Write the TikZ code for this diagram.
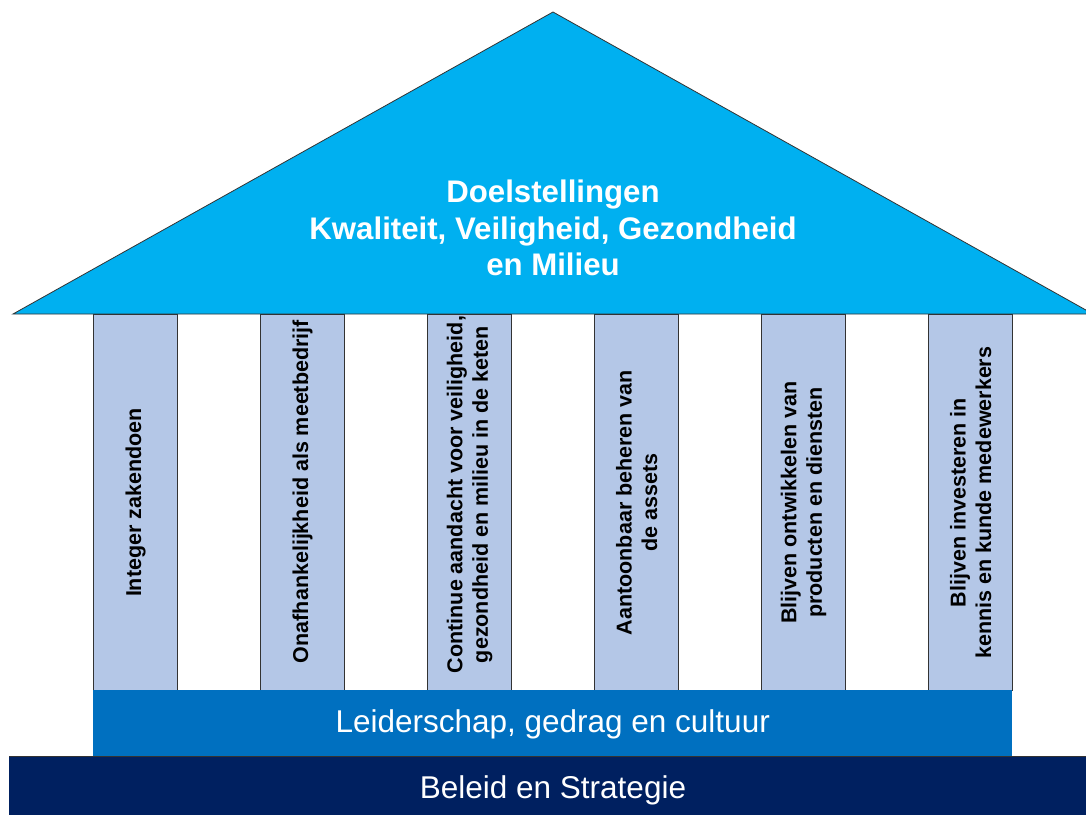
\documentclass[tikz,border=0pt]{standalone}
\usepackage{fontspec}
\setmainfont{Liberation Sans}
\definecolor{roofc}{HTML}{00B0F0}
\definecolor{pillarc}{HTML}{B4C7E7}
\definecolor{bandc}{HTML}{0070C0}
\definecolor{basec}{HTML}{002060}
\definecolor{edgec}{HTML}{333333}
\tikzset{
  pillar/.style={rectangle, draw=edgec, line width=1.2pt, fill=pillarc, minimum width=84pt, minimum height=376pt, inner sep=0pt, anchor=north west},
  plabel/.style={rotate=90, align=center, font=\fontsize{21.5}{25.5}\selectfont\bfseries, text=black, inner sep=0pt},
  band/.style={rectangle, inner sep=0pt, anchor=north west, text=white, font=\fontsize{31.5}{36}\selectfont}
}
\begin{document}
\begin{tikzpicture}[x=1pt,y=-1pt]
\useasboundingbox (0,0) rectangle (1086,814);
\clip (0,0) rectangle (1086,814);
\fill[white] (0,0) rectangle (1086,814);
% roof
\filldraw[fill=roofc, draw=edgec, line width=0.8pt] (13,314) -- (553,12) -- (1093,314) -- cycle;
\node[align=center, text=white, font=\fontsize{31.2}{36.5}\selectfont\bfseries] (roof) at (553,228)
  {Doelstellingen\\Kwaliteit, Veiligheid, Gezondheid\\en Milieu};
% pillars
\node[pillar] (p1) at (93,314) {};
\node[pillar] (p2) at (260,314) {};
\node[pillar] (p3) at (427,314) {};
\node[pillar] (p4) at (594,314) {};
\node[pillar] (p5) at (761,314) {};
\node[pillar] (p6) at (928,314) {};
\node[plabel] (l1) at (p1.center) {Integer zakendoen};
\node[plabel] (l2) at ([yshift=11pt]p2.center) {Onafhankelijkheid als meetbedrijf};
\node[plabel] (l3) at ([yshift=8pt]p3.center) {Continue aandacht voor veiligheid,\\gezondheid en milieu in de keten};
\node[plabel] (l4) at (p4.center) {Aantoonbaar beheren van\\de assets};
\node[plabel] (l5) at (p5.center) {Blijven ontwikkelen van\\producten en diensten};
\node[plabel] (l6) at (p6.center) {Blijven investeren in\\kennis en kunde medewerkers};
% bands
\node[band, fill=bandc, minimum width=919pt, minimum height=66pt] (lead) at (93,690) {};
\node[text=white, font=\fontsize{31.5}{36}\selectfont] (leadt) at ([yshift=-1pt]lead.center) {Leiderschap, gedrag en cultuur};
\node[band, fill=basec, minimum width=1077pt, minimum height=60pt] (base) at (9,756) {};
\draw[edgec, line width=0.8pt] (base.north west) -- (base.north east);
\node[text=white, font=\fontsize{31.5}{36}\selectfont] (baset) at (553,790) {Beleid en Strategie};
\end{tikzpicture}
\end{document}
